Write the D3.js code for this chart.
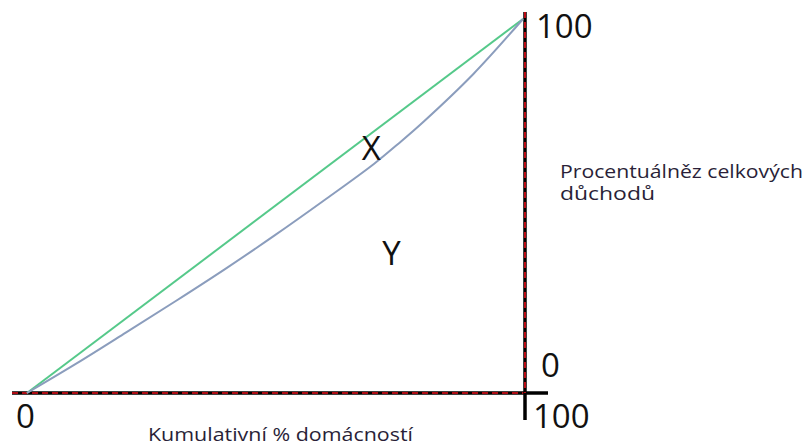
<!DOCTYPE html>
<html><head><meta charset="utf-8">
<script src="https://cdn.jsdelivr.net/npm/d3@7"></script>
<style>body{margin:0;background:#fff}svg{display:block}</style>
</head><body>
<script>
// Data
const equalityX = [0, 100];
const equalityY = [0, 100];
const lorenzX = [0, 10, 20, 30, 40, 50, 60, 70, 75, 80, 90, 100];
const lorenzY = [0, 7.9, 16.2, 24.6, 33.2, 42.2, 51.6, 61.3, 66.8, 72.6, 85.3, 100];
const xTicks = [0, 100];
const yTicks = [0, 100];
const xTickLabels = ["0", "100"];
const yTickLabels = ["0", "100"];
const xTitle = "Kumulativní % domácností";
const yTitle = ["Procentuálněz celkových", "důchodů"];
const areaLabels = [{t: "X", x: 67.5, y: 62.3}, {t: "Y", x: 71.6, y: 34.2}];

const W = 809, H = 445;
const svg = d3.select("body").append("svg").attr("width", W).attr("height", H);
const x = d3.scaleLinear().domain([0, 100]).range([27, 523]);
const y = d3.scaleLinear().domain([0, 100]).range([393, 19]);
const font = "'Open Sans', sans-serif";

const xAxisY = y(0), yAxisX = x(100) + 2;
// horizontal axis: black line with red dashes
svg.append("line").attr("x1", x(0) - 15).attr("y1", xAxisY).attr("x2", yAxisX + 23).attr("y2", xAxisY)
  .attr("stroke", "#000").attr("stroke-width", 3.5);
svg.append("line").attr("x1", x(0) - 15).attr("y1", xAxisY).attr("x2", yAxisX).attr("y2", xAxisY)
  .attr("stroke", "#e8101a").attr("stroke-width", 1.6).attr("stroke-dasharray", "6,4");
// vertical axis
svg.append("line").attr("x1", yAxisX).attr("y1", y(100) - 7).attr("x2", yAxisX).attr("y2", xAxisY + 27)
  .attr("stroke", "#000").attr("stroke-width", 3.5);
svg.append("line").attr("x1", yAxisX).attr("y1", y(100) - 7).attr("x2", yAxisX).attr("y2", xAxisY)
  .attr("stroke", "#e8101a").attr("stroke-width", 1.6).attr("stroke-dasharray", "6,4");

// lines
const line = d3.line().x(d => x(d[0])).y(d => y(d[1]));
svg.append("path").datum(d3.zip(equalityX, equalityY)).attr("d", line)
  .attr("fill", "none").attr("stroke", "#55c98a").attr("stroke-width", 2);
svg.append("path").datum(d3.zip(lorenzX, lorenzY)).attr("d", line.curve(d3.curveCatmullRom))
  .attr("fill", "none").attr("stroke", "#8b9dbd").attr("stroke-width", 2);

// tick labels
svg.append("text").attr("x", x(xTicks[0]) - 11).attr("y", 428).text(xTickLabels[0])
  .attr("font-family", font).attr("font-size", 33).attr("fill", "#111");
svg.append("text").attr("x", x(xTicks[1]) + 10).attr("y", 428).text(xTickLabels[1])
  .attr("font-family", font).attr("font-size", 33).attr("fill", "#111");
svg.append("text").attr("x", yAxisX + 16).attr("y", y(yTicks[0]) - 16).text(yTickLabels[0])
  .attr("font-family", font).attr("font-size", 33).attr("fill", "#111");
svg.append("text").attr("x", yAxisX + 11).attr("y", y(yTicks[1]) + 19).text(yTickLabels[1])
  .attr("font-family", font).attr("font-size", 33).attr("fill", "#111");

// area labels
areaLabels.forEach(a => {
  svg.append("text").attr("x", x(a.x)).attr("y", y(a.y)).text(a.t)
    .attr("font-family", font).attr("font-size", 33).attr("fill", "#111");
});

// titles
svg.append("text").attr("x", 148).attr("y", 441).text(xTitle)
  .attr("font-family", font).attr("font-size", 18).attr("fill", "#2a1f38")
  .attr("textLength", 265).attr("lengthAdjust", "spacingAndGlyphs");
yTitle.forEach((t, i) => {
  svg.append("text").attr("x", 560).attr("y", 178 + i * 22).text(t)
    .attr("font-family", font).attr("font-size", 17.5).attr("fill", "#2a1f38")
    .attr("textLength", i === 0 ? 243 : 95).attr("lengthAdjust", "spacingAndGlyphs");
});
</script>
</body></html>
